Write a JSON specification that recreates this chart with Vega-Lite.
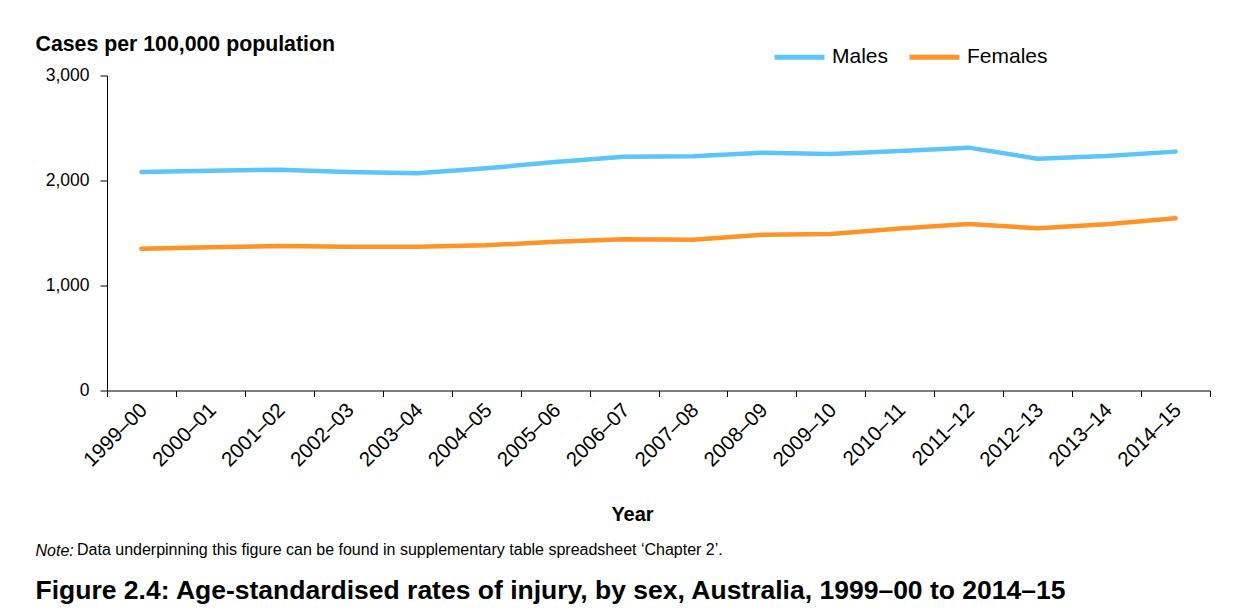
{
  "$schema": "https://vega.github.io/schema/vega-lite/v6.json",
  "width": 1103,
  "height": 315,
  "autosize": {"type": "none"},
  "padding": {"left": 107, "top": 75.5, "right": 27, "bottom": 221.5},
  "background": "white",
  "config": {"view": {"stroke": null}, "font": "Liberation Sans"},
  "title": {
    "text": "Data underpinning this figure can be found in supplementary table spreadsheet ‘Chapter 2’.",
    "orient": "top",
    "anchor": "start",
    "frame": "group",
    "fontSize": 16,
    "fontWeight": "normal",
    "color": "#000000",
    "baseline": "middle",
    "dx": -30,
    "dy": 540
  },
  "data": {
    "values": [
      {"year": "1999–00", "sex": "Males", "rate": 2081},
      {"year": "2000–01", "sex": "Males", "rate": 2093},
      {"year": "2001–02", "sex": "Males", "rate": 2103},
      {"year": "2002–03", "sex": "Males", "rate": 2081},
      {"year": "2003–04", "sex": "Males", "rate": 2068},
      {"year": "2004–05", "sex": "Males", "rate": 2116},
      {"year": "2005–06", "sex": "Males", "rate": 2176},
      {"year": "2006–07", "sex": "Males", "rate": 2227},
      {"year": "2007–08", "sex": "Males", "rate": 2230},
      {"year": "2008–09", "sex": "Males", "rate": 2265},
      {"year": "2009–10", "sex": "Males", "rate": 2252},
      {"year": "2010–11", "sex": "Males", "rate": 2281},
      {"year": "2011–12", "sex": "Males", "rate": 2313},
      {"year": "2012–13", "sex": "Males", "rate": 2208},
      {"year": "2013–14", "sex": "Males", "rate": 2233},
      {"year": "2014–15", "sex": "Males", "rate": 2275},
      {"year": "1999–00", "sex": "Females", "rate": 1351},
      {"year": "2000–01", "sex": "Females", "rate": 1364},
      {"year": "2001–02", "sex": "Females", "rate": 1376},
      {"year": "2002–03", "sex": "Females", "rate": 1370},
      {"year": "2003–04", "sex": "Females", "rate": 1370},
      {"year": "2004–05", "sex": "Females", "rate": 1383},
      {"year": "2005–06", "sex": "Females", "rate": 1417},
      {"year": "2006–07", "sex": "Females", "rate": 1440},
      {"year": "2007–08", "sex": "Females", "rate": 1436},
      {"year": "2008–09", "sex": "Females", "rate": 1484},
      {"year": "2009–10", "sex": "Females", "rate": 1490},
      {"year": "2010–11", "sex": "Females", "rate": 1543},
      {"year": "2011–12", "sex": "Females", "rate": 1586},
      {"year": "2012–13", "sex": "Females", "rate": 1545},
      {"year": "2013–14", "sex": "Females", "rate": 1583},
      {"year": "2014–15", "sex": "Females", "rate": 1640}
    ]
  },
  "layer": [
    {
      "mark": {"type": "line", "strokeWidth": 4.5, "strokeCap": "round", "strokeJoin": "round"},
      "encoding": {
        "x": {
          "field": "year", "type": "nominal", "sort": null, "bandPosition": 0.5,
          "scale": {"type": "band", "paddingInner": 0, "paddingOuter": 0},
          "axis": {
            "title": "Year", "titleFontSize": 20, "titleFontWeight": "bold", "titleColor": "#000000",
            "titleX": 525, "titleY": 123.5, "titleAlign": "center", "titleBaseline": "middle", "titleAnchor": null,
            "labelAngle": -45, "labelFontSize": 20.5, "labelColor": "#000000", "labelPadding": 3, "labelOffset": -5,
            "tickBand": "extent", "tickSize": 6, "tickColor": "#000000", "domainColor": "#000000",
            "grid": false, "labelOverlap": false
          }
        },
        "y": {
          "field": "rate", "type": "quantitative",
          "scale": {"domain": [0, 3000], "nice": false},
          "axis": {
            "values": [0, 1000, 2000, 3000], "format": ",.0f", "grid": false,
            "labelFontSize": 17.5, "labelColor": "#000000", "labelPadding": 11,
            "tickSize": 7, "tickColor": "#000000", "domainColor": "#000000",
            "title": "Cases per 100,000 population", "titleFontSize": 21.3, "titleFontWeight": "bold", "titleColor": "#000000",
            "titleAngle": 0, "titleAlign": "left", "titleBaseline": "middle", "titleX": -72, "titleY": -31.5, "titleAnchor": null
          }
        },
        "color": {
          "field": "sex", "type": "nominal",
          "scale": {"domain": ["Males", "Females"], "range": ["#5BC5FA", "#FF9326"]},
          "legend": {
            "orient": "none", "direction": "horizontal", "legendX": 665, "legendY": -46, "title": null,
            "symbolType": "stroke", "symbolSize": 2500, "symbolStrokeWidth": 5,
            "labelFontSize": 21, "labelColor": "#000000", "labelOffset": 5, "columnPadding": 10
          }
        }
      }
    },
    {
      "mark": {"type": "line", "opacity": 0},
      "encoding": {
        "x": {
          "field": "year", "type": "nominal", "sort": null, "bandPosition": 0.5,
          "scale": {"type": "band", "paddingInner": 0, "paddingOuter": 0},
          "axis": {
            "orient": "top", "domain": false, "ticks": false, "labels": false, "grid": false,
            "title": "Figure 2.4: Age-standardised rates of injury, by sex, Australia, 1999–00 to 2014–15",
            "titleFontSize": 26.5, "titleFontWeight": "bold", "titleColor": "#000000",
            "titleX": -72, "titleY": 514.5, "titleAlign": "left", "titleBaseline": "middle", "titleAngle": 0, "titleAnchor": null
          }
        },
        "y": {
          "field": "rate", "type": "quantitative",
          "scale": {"domain": [0, 3000], "nice": false},
          "axis": {
            "orient": "right", "domain": false, "ticks": false, "labels": false, "grid": false,
            "title": "Note:", "titleFontSize": 16, "titleFontWeight": "normal", "titleFontStyle": "italic", "titleColor": "#000000",
            "titleX": -1175, "titleY": 474.5, "titleAlign": "left", "titleBaseline": "middle", "titleAngle": 0, "titleAnchor": null
          }
        },
        "detail": {"field": "sex", "type": "nominal"}
      }
    }
  ],
  "resolve": {"scale": {"x": "independent", "y": "independent"}}
}
